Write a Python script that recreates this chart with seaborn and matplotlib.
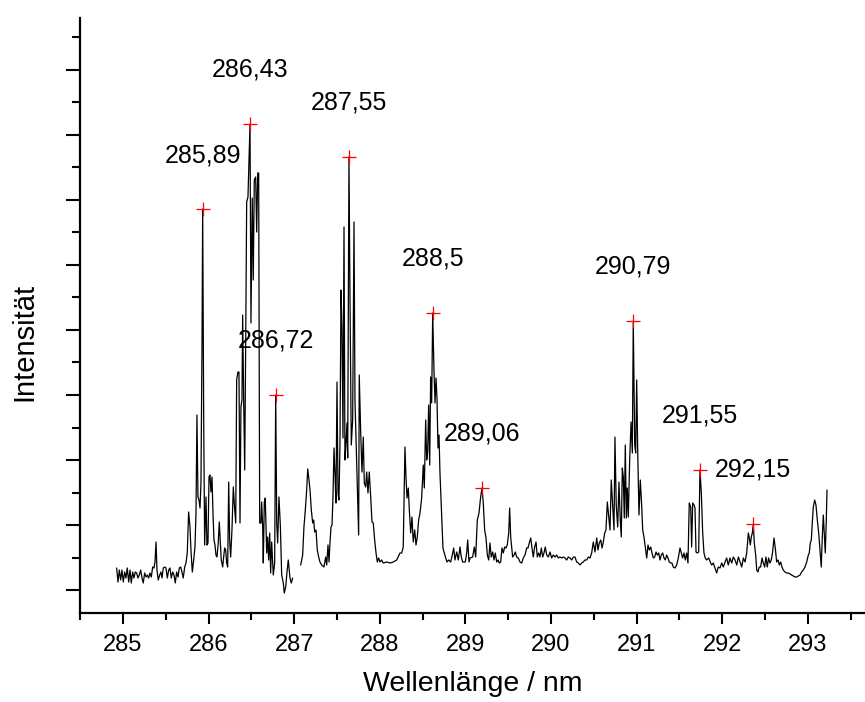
import matplotlib
matplotlib.use("Agg")
import matplotlib.pyplot as plt
import seaborn as sns
import pandas as pd
from matplotlib.ticker import MultipleLocator

# spectrum, first recorded window (wavelength in nm, intensity in arb. units)
wl1 = [284.926, 284.942, 284.957, 284.973, 284.988, 285.004, 285.020, 285.035, 285.050, 285.067,
       285.082, 285.097, 285.113, 285.128, 285.144, 285.160, 285.175, 285.190, 285.207, 285.222,
       285.237, 285.253, 285.269, 285.284, 285.300, 285.315, 285.331, 285.347, 285.362, 285.374,
       285.386, 285.397, 285.412, 285.429, 285.444, 285.456, 285.471, 285.487, 285.502, 285.518,
       285.534, 285.549, 285.564, 285.581, 285.596, 285.611, 285.627, 285.643, 285.658, 285.674,
       285.689, 285.704, 285.721, 285.736, 285.751, 285.767, 285.783, 285.794, 285.810, 285.826,
       285.841, 285.853, 285.864, 285.876, 285.888, 285.900, 285.911, 285.923, 285.931, 285.943,
       285.954, 285.970, 285.981, 285.993, 286.005, 286.016, 286.028, 286.040, 286.051, 286.063,
       286.075, 286.086, 286.098, 286.113, 286.125, 286.137, 286.148, 286.165, 286.176, 286.188,
       286.200, 286.211, 286.223, 286.235, 286.246, 286.258, 286.273, 286.289, 286.300, 286.317,
       286.328, 286.343, 286.355, 286.367, 286.378, 286.390, 286.398, 286.410, 286.422, 286.433,
       286.445, 286.460, 286.484, 286.495, 286.510, 286.522, 286.534, 286.550, 286.562, 286.574,
       286.585, 286.597, 286.612, 286.620, 286.632, 286.639, 286.651, 286.662, 286.679, 286.690,
       286.702, 286.714, 286.725, 286.737, 286.756, 286.772, 286.784, 286.796, 286.807, 286.822,
       286.838, 286.854, 286.873, 286.884, 286.901, 286.916, 286.931, 286.951, 286.966, 286.982]
int1 = [22, 8, 20, 10, 20, 8, 18, 12, 22, 8,
        20, 7, 18, 12, 18, 17, 12, 15, 20, 12,
        7, 17, 13, 15, 12, 17, 13, 23, 22, 28,
        48, 20, 10, 15, 18, 12, 22, 23, 22, 12,
        20, 22, 12, 18, 15, 7, 18, 13, 22, 23,
        18, 12, 23, 27, 37, 78, 63, 40, 18, 30,
        43, 77, 175, 93, 90, 82, 107, 243, 381, 170,
        45, 93, 45, 47, 113, 115, 98, 113, 78, 50,
        45, 35, 33, 47, 68, 47, 30, 23, 33, 42,
        40, 27, 23, 108, 50, 33, 60, 103, 87, 67,
        210, 218, 218, 67, 183, 190, 275, 190, 120, 240,
        388, 393, 466, 267, 392, 310, 410, 413, 358, 417,
        417, 67, 67, 88, 63, 27, 88, 92, 37, 53,
        30, 57, 17, 48, 15, 27, 195, 67, 47, 93,
        65, 15, 7, -3, 3, 18, 30, 12, 7, 12]

# spectrum, second recorded window
wl2 = [287.076, 287.088, 287.099, 287.114, 287.130, 287.146, 287.158, 287.173, 287.185, 287.200,
       287.216, 287.228, 287.239, 287.255, 287.270, 287.286, 287.301, 287.321, 287.348, 287.368,
       287.380, 287.395, 287.407, 287.418, 287.430, 287.442, 287.453, 287.465, 287.477, 287.488,
       287.500, 287.512, 287.523, 287.535, 287.547, 287.558, 287.570, 287.582, 287.593, 287.605,
       287.617, 287.625, 287.640, 287.652, 287.667, 287.683, 287.699, 287.710, 287.725, 287.742,
       287.753, 287.760, 287.777, 287.792, 287.807, 287.819, 287.835, 287.847, 287.862, 287.877,
       287.894, 287.909, 287.924, 287.940, 287.956, 287.971, 287.987, 288.002, 288.022, 288.041,
       288.081, 288.119, 288.158, 288.197, 288.236, 288.256, 288.274, 288.294, 288.306, 288.318,
       288.333, 288.345, 288.361, 288.376, 288.391, 288.408, 288.423, 288.438, 288.454, 288.470,
       288.489, 288.508, 288.520, 288.536, 288.548, 288.559, 288.571, 288.583, 288.594, 288.606,
       288.618, 288.633, 288.645, 288.657, 288.668, 288.680, 288.692, 288.703, 288.723, 288.738,
       288.753, 288.770, 288.785, 288.805, 288.828, 288.847, 288.863, 288.878, 288.898, 288.917,
       288.937, 288.952, 288.968, 288.984, 288.999, 289.015, 289.027, 289.042, 289.054, 289.085,
       289.104, 289.120, 289.139, 289.159, 289.178, 289.194, 289.209, 289.225, 289.241, 289.256,
       289.272, 289.287, 289.302, 289.319, 289.334, 289.349, 289.366, 289.381, 289.396, 289.412,
       289.428, 289.443, 289.459, 289.474, 289.489, 289.506, 289.517, 289.529, 289.541, 289.552,
       289.568, 289.583, 289.599, 289.618, 289.638, 289.658, 289.676, 289.696, 289.716, 289.731,
       289.746, 289.763, 289.778, 289.793, 289.809, 289.825, 289.840, 289.856, 289.871, 289.887,
       289.903, 289.918, 289.933, 289.950, 289.969, 289.988, 290.008, 290.027, 290.047, 290.066,
       290.085, 290.105, 290.125, 290.144, 290.164, 290.183, 290.202, 290.222, 290.242, 290.261,
       290.280, 290.300, 290.319, 290.339, 290.358, 290.377, 290.397, 290.417, 290.436, 290.456,
       290.475, 290.494, 290.514, 290.534, 290.549, 290.564, 290.581, 290.596, 290.611, 290.627,
       290.642, 290.658, 290.674, 290.689, 290.704, 290.721, 290.736, 290.747, 290.762, 290.779,
       290.794, 290.809, 290.821, 290.833, 290.845, 290.856, 290.868, 290.880, 290.891, 290.903,
       290.919, 290.935, 290.950, 290.961, 290.978, 290.989, 291.001, 291.013, 291.028, 291.043,
       291.059, 291.071, 291.086, 291.101, 291.118, 291.133, 291.148, 291.165, 291.180, 291.195,
       291.211, 291.227, 291.242, 291.258, 291.273, 291.288, 291.305, 291.320, 291.335, 291.351,
       291.367, 291.382, 291.398, 291.413, 291.428, 291.449, 291.468, 291.487, 291.507, 291.522,
       291.538, 291.554, 291.569, 291.585, 291.600, 291.615, 291.632, 291.643, 291.655, 291.671,
       291.682, 291.694, 291.709, 291.725, 291.740, 291.756, 291.772, 291.787, 291.802, 291.818,
       291.842, 291.865, 291.877, 291.896, 291.916, 291.935, 291.954, 291.974, 291.994, 292.013,
       292.033, 292.052, 292.071, 292.091, 292.111, 292.130, 292.150, 292.170, 292.189, 292.208,
       292.228, 292.247, 292.267, 292.286, 292.305, 292.317, 292.328, 292.340, 292.352, 292.363,
       292.375, 292.391, 292.403, 292.418, 292.433, 292.449, 292.465, 292.480, 292.496, 292.511,
       292.526, 292.542, 292.558, 292.573, 292.589, 292.605, 292.620, 292.636, 292.652, 292.667,
       292.683, 292.698, 292.713, 292.733, 292.753, 292.772, 292.792, 292.811, 292.830, 292.850,
       292.870, 292.889, 292.909, 292.928, 292.947, 292.967, 292.987, 293.006, 293.017, 293.029,
       293.041, 293.052, 293.064, 293.080, 293.095, 293.111, 293.127, 293.142, 293.157, 293.169,
       293.181, 293.192, 293.204, 293.216, 293.224]
int2 = [25, 30, 35, 63, 80, 100, 121, 110, 100, 80,
        67, 70, 58, 60, 40, 33, 28, 25, 23, 33,
        25, 45, 28, 47, 63, 65, 93, 142, 115, 87,
        208, 97, 90, 147, 300, 262, 152, 363, 130, 147,
        167, 132, 433, 290, 145, 170, 368, 190, 142, 90,
        55, 215, 157, 118, 153, 107, 103, 118, 97, 118,
        93, 68, 67, 50, 37, 28, 32, 28, 30, 27,
        28, 27, 28, 30, 37, 37, 43, 143, 113, 92,
        102, 80, 57, 73, 48, 60, 45, 53, 70, 77,
        92, 125, 102, 170, 130, 138, 185, 125, 213, 187,
        277, 220, 187, 212, 192, 142, 155, 117, 73, 42,
        37, 32, 28, 30, 28, 35, 42, 30, 38, 30,
        43, 33, 28, 28, 28, 37, 50, 28, 32, 33,
        43, 33, 70, 77, 93, 102, 87, 60, 52, 35,
        30, 47, 33, 38, 30, 37, 28, 30, 27, 28,
        42, 37, 43, 42, 45, 57, 82, 53, 42, 33,
        35, 38, 33, 32, 28, 27, 32, 35, 42, 42,
        47, 52, 42, 33, 43, 48, 33, 37, 33, 42,
        33, 37, 43, 35, 33, 38, 32, 35, 33, 35,
        32, 33, 32, 33, 32, 30, 33, 32, 30, 33,
        33, 28, 27, 25, 27, 28, 30, 30, 33, 32,
        37, 48, 38, 52, 40, 47, 50, 42, 48, 57,
        60, 88, 73, 60, 110, 83, 60, 153, 85, 63,
        108, 70, 53, 122, 113, 72, 145, 72, 102, 73,
        130, 168, 137, 269, 145, 137, 210, 138, 75, 110,
        85, 60, 53, 43, 32, 45, 40, 43, 37, 32,
        33, 38, 35, 37, 30, 35, 37, 32, 30, 35,
        32, 28, 27, 27, 23, 22, 25, 32, 42, 37,
        32, 37, 30, 37, 27, 87, 83, 43, 87, 85,
        82, 38, 37, 38, 120, 97, 57, 37, 32, 30,
        32, 27, 25, 27, 22, 17, 23, 22, 27, 23,
        28, 32, 25, 32, 27, 33, 30, 25, 33, 28,
        23, 32, 28, 37, 57, 52, 45, 53, 57, 66,
        47, 35, 20, 18, 23, 23, 32, 27, 23, 33,
        23, 32, 27, 30, 38, 52, 42, 28, 30, 25,
        28, 23, 20, 18, 17, 17, 16, 15, 14, 13,
        13, 14, 15, 18, 20, 23, 28, 35, 37, 47,
        50, 67, 83, 90, 85, 70, 57, 40, 23, 53,
        75, 57, 37, 70, 100]

# marked lines
peak_wl = [285.931, 286.484, 286.784, 287.640, 288.618, 289.194, 290.961, 291.740, 292.363]
peak_int = [381, 466, 195, 433, 277, 102, 269, 120, 66]
peak_labels = ["285,89", "286,43", "286,72", "287,55", "288,5", "289,06", "290,79", "291,55", "292,15"]

sns.set_style("ticks")
plt.rcParams["font.family"] = ["Liberation Sans", "DejaVu Sans"]
plt.rcParams.update({
    "text.color": "black",
    "axes.labelcolor": "black",
    "axes.edgecolor": "black",
    "xtick.color": "black",
    "ytick.color": "black",
})

spec = pd.DataFrame({
    "wl": wl1 + wl2,
    "int": int1 + int2,
    "seg": [1] * len(wl1) + [2] * len(wl2),
})

fig = plt.figure(figsize=(8.65, 7.02), dpi=100)
ax = fig.add_axes([80 / 865, 89 / 702, 785 / 865, 595 / 702])

sns.lineplot(data=spec, x="wl", y="int", units="seg", estimator=None,
             color="black", lw=0.9, sort=False, ax=ax)
sns.scatterplot(x=peak_wl, y=peak_int, marker="+", color="red",
                s=95, linewidth=0.9, zorder=3, ax=ax)

for x, y, t in zip(peak_wl, peak_int, peak_labels):
    ax.annotate(t, (x, y), xytext=(0, 54), textcoords="offset pixels",
                ha="center", va="center", fontsize=18, color="black")

ax.set_xlim(284.498, 293.668)
ax.set_ylim(-23, 572)
ax.xaxis.set_major_locator(MultipleLocator(1))
ax.xaxis.set_minor_locator(MultipleLocator(0.5))
ax.yaxis.set_major_locator(MultipleLocator(65))
ax.yaxis.set_minor_locator(MultipleLocator(32.5))
ax.tick_params(axis="y", labelleft=False)
ax.tick_params(axis="y", which="major", length=10, width=1.5)
ax.tick_params(axis="y", which="minor", length=5.5, width=1.5)
ax.tick_params(axis="x", which="major", length=8, width=1.5)
ax.tick_params(axis="x", which="minor", length=5, width=1.5)
ax.tick_params(axis="x", pad=7, labelsize=17)

sns.despine(ax=ax)
for s in ["left", "bottom"]:
    ax.spines[s].set_linewidth(1.6)

ax.set_xlabel("Wellenlänge / nm", fontsize=20.5)
ax.set_ylabel("Intensität", fontsize=21)
ax.xaxis.set_label_coords(0.5, -0.098)
ax.yaxis.set_label_coords(-0.0535, 0.455)

fig.savefig("out.png", dpi=100)
